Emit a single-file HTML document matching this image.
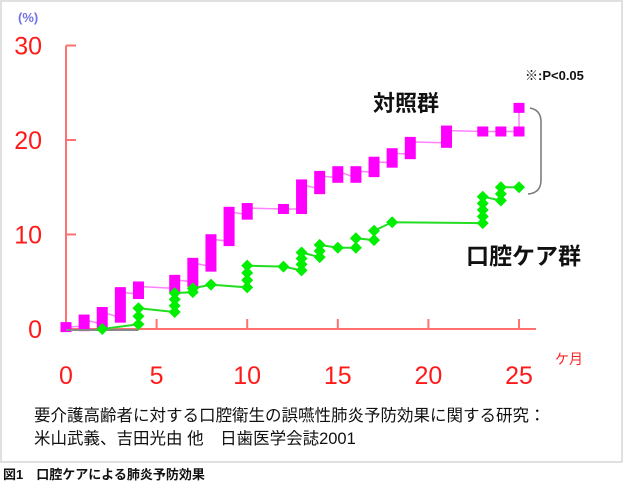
<!DOCTYPE html>
<html><head><meta charset="utf-8"><style>
body{margin:0;background:#fff;}
svg{display:block;font-family:"Liberation Sans","Noto Sans CJK JP",sans-serif;}
</style></head><body>
<svg id="chart" width="625" height="484" viewBox="0 0 625 484">
<rect x="1" y="1" width="621" height="461" fill="#fff" stroke="#d6d6d6" stroke-width="1.5"/>
<text x="18" y="22" font-size="13" fill="#7272e6" font-weight="bold">(%)</text>
<g id="axes"></g>
<g id="series"></g>
<path d="M530,108 Q541,110 541,122 L541,180 Q541,193 528,194" fill="none" stroke="#777" stroke-width="1.5"/>
<text x="525" y="80" font-size="13" font-weight="bold" fill="#111">※:P&lt;0.05</text>
<text x="373" y="111" font-size="22" font-weight="bold" fill="#111">対照群</text>
<text x="466" y="264" font-size="23" font-weight="bold" fill="#111">口腔ケア群</text>
<text x="555" y="364" font-size="14" fill="#f22">ケ月</text>
<text x="34" y="421" font-size="16.5" fill="#111">要介護高齢者に対する口腔衛生の誤嚥性肺炎予防効果に関する研究：</text>
<text x="34" y="444" font-size="16.5" fill="#111">米山武義、吉田光由 他　日歯医学会誌2001</text>
<text x="3" y="479" font-size="13" font-weight="bold" fill="#111">図1　口腔ケアによる肺炎予防効果</text>
</svg>
<script>
const xTicks=[0,5,10,15,20,25];
const yTicks=[0,10,20,30];
const ctrlMonths=[0,1,2,3,4,6,7,8,9,10,12,13,14,15,16,17,18,19,21,23,24,25,25];
const ctrlLow=[0.2,0.3,0.5,1.2,3.7,4.3,5.0,6.6,9.3,12.1,12.7,12.7,14.8,16.0,16.0,16.6,17.6,18.5,19.7,20.9,20.9,20.9,23.4];
const ctrlHigh=[0.2,1.0,1.8,3.9,4.5,5.2,7.0,9.5,12.4,12.8,12.7,15.3,16.2,16.7,16.7,17.7,18.6,19.8,21.0,20.9,20.9,20.9,23.4];
const careMonths=[2,4,6,7,8,10,12,13,14,15,16,17,18,23,24,25];
const careLow=[0.0,0.5,1.8,3.9,4.7,4.4,6.6,6.2,7.6,8.6,8.6,9.4,11.3,11.2,13.6,15.0];
const careHigh=[0.0,2.2,3.8,4.3,4.7,6.7,6.6,8.1,8.9,8.6,9.6,10.4,11.3,14.0,15.0,15.0];
const X=m=>66+m*18.12;
const Y=v=>329-v*9.45;
const NS="http://www.w3.org/2000/svg";
function mk(tag,attrs,parent){const e=document.createElementNS(NS,tag);for(const k in attrs)e.setAttribute(k,attrs[k]);parent.appendChild(e);return e;}
const ax=document.getElementById('axes'), sr=document.getElementById('series');
let e=mk('line',{x1:X(0),y1:Y(30),x2:X(0),y2:Y(0),stroke:'#ff7070','stroke-width':2},ax);


e=mk('line',{x1:X(0),y1:Y(0),x2:X(25)+17,y2:Y(0),stroke:'#ff7070','stroke-width':2},ax);


yTicks.forEach(v=>{
 if(v>0){const t=mk('line',{x1:X(0),y1:Y(v),x2:X(0)+10,y2:Y(v),stroke:'#ff7070','stroke-width':2},ax);
 
 }
 const l=mk('text',{x:42,y:Y(v)+9,'font-size':25,fill:'#ff1a1a','text-anchor':'end'},ax);l.textContent=v;
 
 
});
xTicks.forEach(m=>{
 if(m>0){const t=mk('line',{x1:X(m),y1:Y(0),x2:X(m),y2:Y(0)-10,stroke:'#ff7070','stroke-width':2},ax);
 
 }
 const l=mk('text',{x:X(m),y:384,'font-size':25,fill:'#ff1a1a','text-anchor':'middle'},ax);l.textContent=m;
 
 
});
let d='';
ctrlMonths.forEach((m,i)=>{d+=(i?'L':'M')+X(m)+','+Y(ctrlLow[i])+'L'+X(m)+','+Y(ctrlHigh[i]);});
e=mk('path',{d:d,fill:'none',stroke:'#ff80ff','stroke-width':1.5},sr);


ctrlMonths.forEach((m,i)=>{
 const top=Y(ctrlHigh[i])-5,bot=Y(ctrlLow[i])+5;
 const r=mk('rect',{x:X(m)-5.5,y:top,width:11,height:bot-top,fill:'#ff00ff'},sr);
 
 
});
d='';
careMonths.forEach((m,i)=>{d+=(i?'L':'M')+X(m)+','+Y(careLow[i])+'L'+X(m)+','+Y(careHigh[i]);});
e=mk('line',{x1:X(0),y1:Y(0)+1,x2:X(4),y2:Y(0)+1,stroke:'#888','stroke-width':2},sr);


e=mk('path',{d:d,fill:'none',stroke:'#22dd22','stroke-width':2},sr);


careMonths.forEach((m,i)=>{
 const lo=careLow[i],hi=careHigh[i];
 const n=Math.max(1,Math.round((hi-lo)/0.7)+1);
 for(let k=0;k<n;k++){
  const v=n===1?hi:lo+(hi-lo)*k/(n-1);
  const cx=X(m),cy=Y(v);
  const p=mk('polygon',{points:`${cx},${cy-6} ${cx+6},${cy} ${cx},${cy+6} ${cx-6},${cy}`,fill:'#00ee00'},sr);
  
  
 }
});
</script>
</body></html>
